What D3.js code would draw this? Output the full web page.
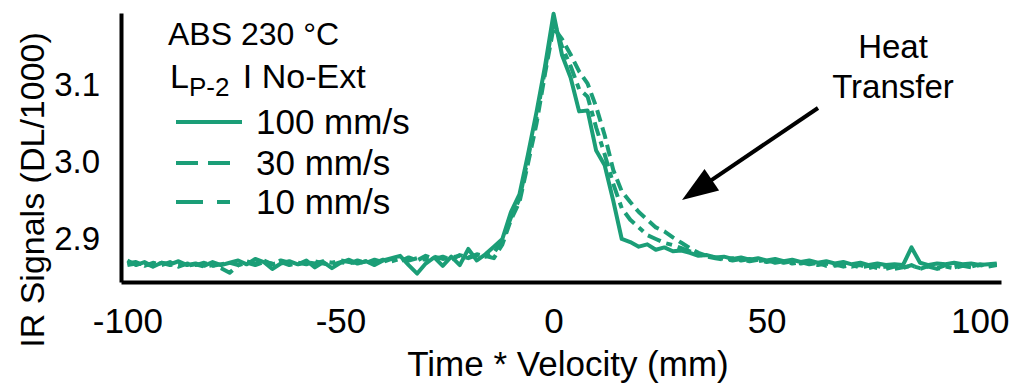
<!DOCTYPE html>
<html>
<head>
<meta charset="utf-8">
<script src="https://cdn.jsdelivr.net/npm/d3@7"></script>
<style>
  body { margin: 0; background: #fff; }
  text { font-family: "Liberation Sans", Arial, sans-serif; fill: #000; }
</style>
</head>
<body>
<div id="chart"></div>
<script>
// position (mm), sampled every 2 mm
const positions = [
  -100, -98, -96, -94, -92, -90, -88, -86, -84, -82, -80, -78, -76, -74, -72, -70, -68, -66, -64, -62,
  -60, -58, -56, -54, -52, -50, -48, -46, -44, -42, -40, -38, -36, -34, -32, -30, -28, -26, -24, -22,
  -20, -18, -16, -14, -12, -10, -8, -6, -4, -2, 0, 2, 4, 6, 8, 10, 12, 14, 16, 18,
  20, 22, 24, 26, 28, 30, 32, 34, 36, 38, 40, 42, 44, 46, 48, 50, 52, 54, 56, 58,
  60, 62, 64, 66, 68, 70, 72, 74, 76, 78, 80, 82, 84, 86, 88, 90, 92, 94, 96, 98,
  100, 102, 104
];

const speed100 = [
  2.872, 2.866, 2.870, 2.864, 2.869, 2.867, 2.871, 2.866, 2.868, 2.865, 2.870, 2.866, 2.869, 2.872, 2.867, 2.874, 2.870, 2.861, 2.868, 2.871,
  2.867, 2.872, 2.863, 2.870, 2.862, 2.869, 2.873, 2.868, 2.871, 2.866, 2.872, 2.875, 2.878, 2.866, 2.855, 2.868, 2.876, 2.865, 2.877, 2.866,
  2.887, 2.872, 2.880, 2.890, 2.900, 2.935, 2.958, 3.010, 3.065, 3.125, 3.193, 3.139, 3.110, 3.066, 3.067, 3.015, 2.996, 2.950, 2.900, 2.896,
  2.890, 2.893, 2.886, 2.889, 2.884, 2.885, 2.882, 2.878, 2.879, 2.876, 2.877, 2.874, 2.876, 2.873, 2.875, 2.872, 2.874, 2.871, 2.873, 2.870,
  2.872, 2.869, 2.871, 2.868, 2.870, 2.867, 2.869, 2.866, 2.868, 2.866, 2.867, 2.866, 2.889, 2.869, 2.866, 2.868, 2.867, 2.869, 2.867, 2.868,
  2.866, 2.867, 2.868
];

const speed30 = [
  2.868, 2.870, 2.865, 2.869, 2.866, 2.870, 2.864, 2.868, 2.866, 2.869, 2.865, 2.867, 2.869, 2.866, 2.871, 2.868, 2.872, 2.867, 2.870, 2.866,
  2.869, 2.867, 2.871, 2.868, 2.866, 2.870, 2.868, 2.872, 2.869, 2.873, 2.870, 2.874, 2.871, 2.876, 2.872, 2.878, 2.874, 2.877, 2.873, 2.879,
  2.876, 2.880, 2.878, 2.875, 2.893, 2.925, 2.948, 2.998, 3.050, 3.115, 3.175, 3.160, 3.140, 3.118, 3.102, 3.072, 3.035, 2.990, 2.962, 2.948,
  2.935, 2.925, 2.915, 2.910, 2.902, 2.895, 2.888, 2.882, 2.878, 2.876, 2.874, 2.872, 2.874, 2.871, 2.873, 2.870, 2.872, 2.869, 2.871, 2.868,
  2.870, 2.866, 2.868, 2.865, 2.867, 2.864, 2.866, 2.862, 2.865, 2.861, 2.864, 2.862, 2.866, 2.861, 2.865, 2.862, 2.866, 2.863, 2.866, 2.864,
  2.867, 2.865, 2.867
];

const speed10 = [
  2.866, 2.868, 2.867, 2.865, 2.869, 2.866, 2.868, 2.865, 2.867, 2.864, 2.866, 2.862, 2.856, 2.866, 2.869, 2.866, 2.870, 2.868, 2.872, 2.869,
  2.867, 2.870, 2.868, 2.871, 2.869, 2.872, 2.870, 2.868, 2.871, 2.869, 2.873, 2.871, 2.874, 2.872, 2.875, 2.873, 2.877, 2.874, 2.876, 2.878,
  2.875, 2.879, 2.877, 2.882, 2.898, 2.928, 2.952, 3.005, 3.058, 3.120, 3.185, 3.150, 3.125, 3.095, 3.085, 3.045, 3.010, 2.972, 2.940, 2.925,
  2.915, 2.905, 2.900, 2.895, 2.892, 2.888, 2.884, 2.880, 2.877, 2.875, 2.873, 2.875, 2.872, 2.874, 2.871, 2.873, 2.869, 2.871, 2.868, 2.870,
  2.867, 2.869, 2.865, 2.867, 2.864, 2.866, 2.863, 2.865, 2.862, 2.864, 2.861, 2.863, 2.865, 2.862, 2.864, 2.861, 2.864, 2.862, 2.865, 2.863,
  2.866, 2.864, 2.866
];

const seriesNames = ["100 mm/s", "30 mm/s", "10 mm/s"];
const xTicks = [-100, -50, 0, 50, 100];
const yTicks = [2.9, 3.0, 3.1];

const w = 1016;
const h = 387;
const green = "#1b9e77";
const dashes = [null, "22,10", "27,14,13,14"];

var svg = d3.select("#chart")
  .append("svg")
  .attr("width", w)
  .attr("height", h);

var x = d3.scaleLinear()
  .domain([-101.5, 105])
  .range([121, 1001]);

var y = d3.scaleLinear()
  .domain([2.844, 3.194])
  .range([282, 13]);

// data lines, dashed ones first so the solid one sits on top
var series = [speed100, speed30, speed10];
var line = d3.line()
  .x((d, i) => x(positions[i]))
  .y(d => y(d));

[2, 1, 0].forEach(function(k) {
  svg.append("path")
    .attr("d", line(series[k]))
    .attr("fill", "none")
    .attr("stroke", green)
    .attr("stroke-width", 4)
    .attr("stroke-linejoin", "round")
    .attr("stroke-dasharray", k ? (k == 1 ? "12,6" : "14,6,6,6") : null);
});

// axes
var xAxis = svg.append("g")
  .attr("transform", "translate(0,282)")
  .call(d3.axisBottom(x).tickValues(xTicks).tickSize(0).tickPadding(26).tickFormat(d => String(d)));

var yAxis = svg.append("g")
  .attr("transform", "translate(121,0)")
  .call(d3.axisLeft(y).tickValues(yTicks).tickSize(0).tickPadding(21).tickFormat(d3.format(".1f")));

[xAxis, yAxis].forEach(function(a) {
  a.select(".domain").attr("stroke", "#000").attr("stroke-width", 4);
  a.selectAll("text").style("font-size", "35px").attr("fill", "#000");
});
yAxis.selectAll("text").style("font-size", "33px");

svg.append("text")
  .attr("x", 568)
  .attr("y", 376)
  .attr("text-anchor", "middle")
  .style("font-size", "35px")
  .text("Time * Velocity (mm)");

svg.append("text")
  .attr("transform", "translate(44,190) rotate(-90)")
  .attr("text-anchor", "middle")
  .style("font-size", "34px")
  .text("IR Signals (DL/1000)");

// legend
svg.append("text")
  .attr("x", 168)
  .attr("y", 45)
  .style("font-size", "32px")
  .text("ABS 230 °C");

var cond = svg.append("text")
  .attr("x", 170)
  .attr("y", 88)
  .style("font-size", "34px");
cond.append("tspan").text("L");
cond.append("tspan").attr("dy", 8).style("font-size", "26px").text("P-2");
cond.append("tspan").attr("dy", -8).attr("dx", 4).text(" I No-Ext");

seriesNames.forEach(function(name, k) {
  var ly = [122, 163, 202][k];
  svg.append("line")
    .attr("x1", 176)
    .attr("x2", k ? 230 : 242)
    .attr("y1", ly)
    .attr("y2", ly)
    .attr("stroke", green)
    .attr("stroke-width", 4)
    .attr("stroke-dasharray", dashes[k]);
  svg.append("text")
    .attr("x", 256)
    .attr("y", ly + 12)
    .style("font-size", "35px")
    .text(name);
});

// annotation
svg.append("text")
  .attr("x", 893)
  .attr("y", 58)
  .attr("text-anchor", "middle")
  .style("font-size", "33px")
  .text("Heat");
svg.append("text")
  .attr("x", 893)
  .attr("y", 98)
  .attr("text-anchor", "middle")
  .style("font-size", "33px")
  .text("Transfer");

var from = [818, 108], tip = [682, 200];
var dx = tip[0] - from[0], dy = tip[1] - from[1];
var len = Math.sqrt(dx * dx + dy * dy);
var ux = dx / len, uy = dy / len;
var headLen = 36, headHalf = 13;
var base = [tip[0] - ux * headLen, tip[1] - uy * headLen];

svg.append("line")
  .attr("x1", from[0])
  .attr("y1", from[1])
  .attr("x2", base[0] + ux * 4)
  .attr("y2", base[1] + uy * 4)
  .attr("stroke", "#000")
  .attr("stroke-width", 4);

svg.append("path")
  .attr("d", "M" + tip + "L" + [base[0] - uy * headHalf, base[1] + ux * headHalf] +
    "L" + [base[0] + uy * headHalf, base[1] - ux * headHalf] + "Z")
  .attr("fill", "#000");
</script>
</body>
</html>
